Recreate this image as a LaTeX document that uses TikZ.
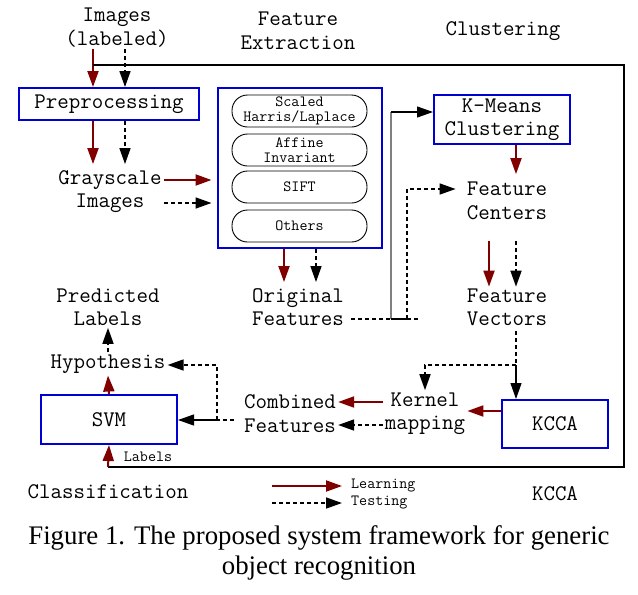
\documentclass[tikz,border=0pt]{standalone}
\usepackage{fontspec}
\newfontfamily\capfont{Liberation Serif}
\usetikzlibrary{positioning,arrows.meta,calc}
\definecolor{lrnred}{RGB}{128,0,0}
\definecolor{boxblue}{RGB}{0,0,210}
\newcommand{\bigtt}{\ttfamily\fontsize{22.3}{23.5}\selectfont}
\newcommand{\smalltt}{\ttfamily\fontsize{15.6}{15}\selectfont}

\begin{document}
\begin{tikzpicture}[x=1pt,y=-1pt,>={Triangle[length=16pt,width=11pt]},
  blk/.style={draw=boxblue,line width=2pt,font=\bigtt,align=center,inner sep=0pt},
  det/.style={draw,line width=0.9pt,rounded corners=15.5pt,minimum width=135pt,minimum height=32pt,font=\smalltt,align=center,inner sep=0pt},
  txt/.style={font=\bigtt,align=center,inner sep=2pt},
  lab/.style={font=\smalltt,inner sep=0pt},
  learn/.style={->,draw=lrnred,line width=2pt},
  test/.style={->,line width=1.6pt,dash pattern=on 4pt off 3pt},
  link/.style={->,line width=1.2pt},
  frame/.style={line width=1.4pt}]
\useasboundingbox (0,0) rectangle (638,595);
% stage titles
\node[txt] (tImg) at (117,27.5) {Images\\(labeled)};
\node[txt] (tFe) at (298,31) {Feature\\Extraction};
\node[txt] (tCl) at (503,31) {Clustering};
\node[txt] (tCf) at (108,492) {Classification};
\node[txt] (tKc) at (555,494) {KCCA};
% boxes
\node[blk,minimum width=180pt,minimum height=32pt] (prep) at (109,104) {Preprocessing};
\node[blk,minimum width=164pt,minimum height=160pt] (fe) at (299.5,168) {};
\foreach \n/\y/\t in {harris/111/{Scaled\\Harris/Laplace},affine/150/{Affine\\Invariant},sift/187/SIFT,other/226/Others}
  \node[det] (\n) at (299.5,\y) {\t};
\node[blk,minimum width=136pt,minimum height=49pt] (km) at (502,119.5) {K-Means\\Clustering};
\node[blk,minimum width=106pt,minimum height=48pt] (kcca) at (555,424) {KCCA};
\node[blk,minimum width=136pt,minimum height=49pt] (svm) at (109,419.5) {SVM};
% intermediate data
\node[txt] (gray) at (110,191.5) {Grayscale\\Images};
\node[txt] (orig) at (298,307) {Original\\Features};
\node[txt] (cent) at (507,201) {Feature\\Centers};
\node[txt] (vec) at (507,307.5) {Feature\\Vectors};
\node[txt] (kern) at (425,413.5) {Kernel\\mapping};
\node[txt] (comb) at (290,413.5) {Combined\\Features};
\node[txt] (hyp) at (108,364) {Hypothesis};
\node[txt] (pred) at (108,307) {Predicted\\Labels};
% input and preprocessing
\draw[learn] (tImg.south -| 93,0) -- (prep.north -| 93,0);
\draw[test] (tImg.south -| 125,0) -- (prep.north -| 125,0);
\draw[learn,shorten >=4pt] (prep.south -| 93,0) -- (gray.north -| 93,0);
\draw[test,shorten >=4pt] (prep.south -| 125,0) -- (gray.north -| 125,0);
\draw[learn,shorten >=5pt] (gray.east |- 0,180) -- (fe.west |- 0,180);
\draw[test,shorten >=5pt] (gray.east |- 0,203) -- (fe.west |- 0,203);
% feature extraction
\draw[learn,shorten >=4pt] (fe.south -| 284,0) -- (orig.north -| 284,0);
\draw[test,shorten >=4pt] (fe.south -| 316,0) -- (orig.north -| 316,0);
\coordinate (oj) at (391,319);
\coordinate (tj) at (407,319);
\coordinate (kj) at (391,112);
\draw[test,-,shorten <=5pt] (orig.east |- oj) -- (418,319);
\draw[line width=1.5pt,gray] (oj) -- (kj);
\draw[link] (kj) -- (km.west |- kj);
\draw[line width=1.4pt] (oj) -- (tj);
\draw[test,shorten >=9pt] (tj) |- (cent.west |- 0,189);
% clustering
\draw[learn,shorten >=6pt] (km.south -| 516,0) -- (cent.north -| 516,0);
\draw[learn,shorten <=19pt] (cent.south -| 489,0) -- (vec.north -| 489,0);
\draw[test,shorten <=19pt] (cent.south -| 516,0) -- (vec.north -| 516,0);
\coordinate (vj) at (516,365);
\draw[test,-,shorten <=3pt] (vec.south -| vj) -- (vj);
\draw[link] (vj) -- (kcca.north -| vj);
\draw[test] (vj) -| (kern.north);
% kernel mapping
\draw[learn] (kcca.west |- 0,411) -- (kern.east |- 0,411);
\draw[learn] (kern.west |- 0,402) -- (comb.east |- 0,402);
\draw[test] (kern.west |- 0,425) -- (comb.east |- 0,425);
% classification
\coordinate (cj) at (217,420);
\draw[test,-,shorten <=8pt] (comb.west |- cj) -- (cj);
\draw[test] (cj) |- (hyp.east |- 0,365);
\draw[link] (cj) -- (svm.east |- cj);
\draw[learn] (svm.north) -- (hyp.south);
\draw[test] (hyp.north) -- (pred.south);
% labels loop
\coordinate (f1) at (93,65);
\coordinate (f2) at (624,65);
\coordinate (f3) at (624,467);
\coordinate (f4) at (108,467);
\draw[frame] (f1) -- (f2) -- (f3) -- (f4);
\draw[learn] (f4) -- (svm.south);
\node[lab] (lbl) at (148,457) {Labels};
% legend
\coordinate (l1) at (272,486);
\coordinate (l2) at (272,503);
\node[lab,anchor=west] (lLrn) at (351,486) {Learning};
\node[lab,anchor=west] (lTst) at (351,503) {Testing};
\draw[learn,shorten >=9pt] (l1) -- (lLrn.west);
\draw[test,shorten >=9pt] (l2) -- (lTst.west);
% caption
\node[font=\capfont\fontsize{26.8}{30}\selectfont,align=center,inner sep=0pt] (cap) at (319,553) {Figure 1. The proposed system framework for generic\\object recognition};
\end{tikzpicture}
\end{document}
